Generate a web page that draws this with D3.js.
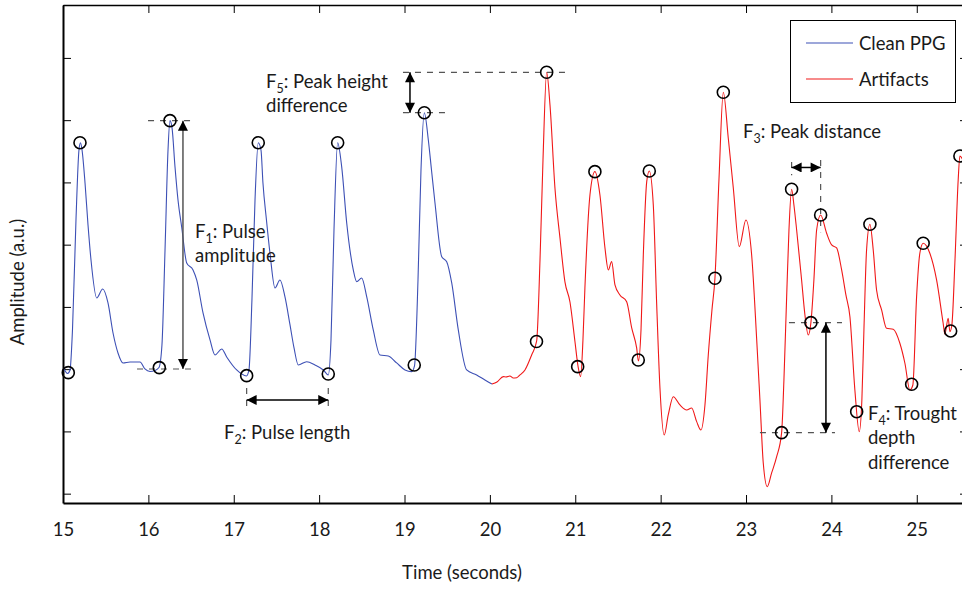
<!DOCTYPE html>
<html>
<head>
<meta charset="utf-8">
<script src="https://cdn.jsdelivr.net/npm/d3@7"></script>
<style>
    body { margin: 0; background: #fff; }
    text { font-family: Lato, "Open Sans", sans-serif; fill: #1a1a1a; }
</style>
</head>
<body>
<svg id="grafico"></svg>
<script>
const WIDTH = 962,
    HEIGHT = 589;

// el eje derecho queda fuera del cuadro, como en la figura original
const margin = { top: 5, left: 63, bottom: 86, right: -6 };
const FUENTE = "18.5px";

// señal limpia (azul)
const cleanTime = [15.006, 15.053, 15.082, 15.111, 15.152, 15.187, 15.205, 15.223, 15.258, 15.293, 15.328, 15.395, 15.465, 15.527, 15.586, 15.644, 15.703, 15.785, 15.902, 15.960, 16.019, 16.077, 16.124, 16.159, 16.195, 16.230, 16.253, 16.277, 16.312, 16.347, 16.390, 16.449, 16.523, 16.566, 16.640, 16.722, 16.780, 16.859, 16.917, 17.034, 17.149, 17.178, 17.213, 17.249, 17.287, 17.319, 17.342, 17.383, 17.424, 17.483, 17.541, 17.600, 17.659, 17.706, 17.756, 17.854, 17.951, 18.049, 18.107, 18.139, 18.174, 18.217, 18.264, 18.323, 18.400, 18.440, 18.498, 18.557, 18.634, 18.713, 18.810, 18.908, 19.006, 19.084, 19.117, 19.158, 19.193, 19.232, 19.279, 19.316, 19.357, 19.436, 19.494, 19.553, 19.630, 19.728, 19.845, 19.942, 20.024];
const cleanAmp = [2.019, 1.931, 1.987, 2.630, 4.397, 5.521, 5.638, 5.521, 4.991, 4.316, 3.754, 3.144, 3.288, 3.063, 2.581, 2.260, 2.100, 2.116, 2.116, 2.003, 1.963, 1.979, 2.027, 2.389, 3.915, 5.521, 5.992, 5.875, 5.248, 4.718, 4.284, 3.706, 3.594, 3.433, 2.903, 2.469, 2.228, 2.324, 2.196, 1.987, 1.891, 1.987, 3.112, 4.718, 5.638, 5.521, 4.991, 4.397, 3.867, 3.304, 3.433, 3.160, 2.710, 2.341, 2.067, 2.120, 2.067, 1.987, 1.907, 2.469, 4.236, 5.638, 5.253, 4.349, 3.594, 3.406, 3.465, 3.165, 2.630, 2.228, 2.212, 2.100, 1.987, 1.960, 2.051, 3.433, 5.200, 6.120, 5.682, 5.200, 4.670, 3.807, 3.727, 3.385, 2.630, 1.987, 1.907, 1.826, 1.762];

// tramo con artefactos (rojo)
const artifactTime = [20.024, 20.083, 20.157, 20.188, 20.235, 20.270, 20.314, 20.352, 20.411, 20.489, 20.548, 20.587, 20.622, 20.665, 20.704, 20.762, 20.821, 20.879, 20.938, 20.997, 21.032, 21.063, 21.090, 21.113, 21.172, 21.230, 21.289, 21.348, 21.387, 21.426, 21.465, 21.523, 21.602, 21.661, 21.719, 21.740, 21.770, 21.797, 21.837, 21.867, 21.914, 21.954, 21.992, 22.042, 22.089, 22.148, 22.226, 22.305, 22.363, 22.422, 22.472, 22.519, 22.558, 22.601, 22.636, 22.683, 22.734, 22.792, 22.851, 22.921, 22.999, 23.066, 23.124, 23.163, 23.202, 23.249, 23.300, 23.359, 23.417, 23.444, 23.476, 23.503, 23.534, 23.561, 23.593, 23.651, 23.690, 23.729, 23.760, 23.795, 23.827, 23.874, 23.944, 24.003, 24.061, 24.120, 24.170, 24.217, 24.275, 24.326, 24.357, 24.381, 24.412, 24.451, 24.490, 24.529, 24.588, 24.646, 24.724, 24.802, 24.861, 24.919, 24.954, 24.998, 25.036, 25.075, 25.153, 25.232, 25.309, 25.329, 25.368, 25.388, 25.411, 25.446, 25.485, 25.505, 25.540];
const artifactAmp = [1.762, 1.794, 1.880, 1.875, 1.891, 1.859, 1.863, 1.907, 1.987, 2.228, 2.453, 3.754, 5.361, 6.769, 6.244, 4.911, 4.108, 3.401, 3.079, 2.437, 2.051, 1.880, 2.469, 3.304, 4.798, 5.173, 4.798, 3.947, 3.594, 3.727, 3.353, 3.192, 3.084, 2.662, 2.341, 2.132, 2.630, 3.834, 5.012, 5.184, 4.638, 3.031, 1.698, 0.943, 1.264, 1.558, 1.425, 1.345, 1.377, 1.157, 1.023, 1.425, 2.228, 2.951, 3.460, 5.039, 6.448, 5.714, 4.911, 3.968, 4.397, 3.834, 2.501, 1.505, 0.493, 0.112, 0.333, 0.594, 0.980, 1.826, 3.165, 4.236, 4.890, 4.638, 4.236, 3.433, 2.871, 2.549, 2.747, 3.433, 4.236, 4.477, 4.183, 3.995, 3.947, 3.594, 3.192, 2.843, 1.666, 0.996, 1.505, 2.630, 3.915, 4.328, 3.915, 3.272, 2.951, 2.657, 2.641, 2.416, 2.095, 1.666, 1.746, 3.165, 3.862, 4.022, 3.862, 3.433, 2.737, 2.565, 2.818, 2.602, 2.710, 3.701, 5.039, 5.425, 5.360];

// picos y valles detectados (círculos)
const markTime = [15.062, 15.199, 16.128, 16.253, 17.151, 17.287, 18.107, 18.217, 19.114, 19.232, 20.546, 20.665, 21.028, 21.230, 21.738, 21.867, 22.636, 22.734, 23.417, 23.534, 23.760, 23.874, 24.296, 24.451, 24.940, 25.075, 25.397, 25.505];
const markAmp = [1.944, 5.638, 2.024, 5.992, 1.896, 5.638, 1.923, 5.638, 2.067, 6.120, 2.445, 6.769, 2.040, 5.173, 2.148, 5.184, 3.460, 6.448, 0.980, 4.890, 2.747, 4.477, 1.317, 4.328, 1.757, 4.022, 2.614, 5.425];

const xTicks = [15, 16, 17, 18, 19, 20, 21, 22, 23, 24, 25];
const yTicks = [0, 1, 2, 3, 4, 5, 6, 7];
const legendLabels = ["Clean PPG", "Artifacts"];
const seriesColors = ["#3d50b5", "#f01818"];

const svg = d3.select("#grafico")
    .attr("width", WIDTH)
    .attr("height", HEIGHT);

const escalaX = d3.scaleLinear()
    .domain([15, 25.6])
    .range([margin.left, WIDTH - margin.right]);

const escalaY = d3.scaleLinear()
    .domain([-0.15, 7.85])
    .range([HEIGHT - margin.bottom, margin.top]);

// flechas
const defs = svg.append("defs");
defs.append("marker")
    .attr("id", "punta")
    .attr("viewBox", "0 0 10 10")
    .attr("refX", 10)
    .attr("refY", 5)
    .attr("markerUnits", "userSpaceOnUse")
    .attr("markerWidth", 11)
    .attr("markerHeight", 10)
    .attr("orient", "auto-start-reverse")
    .append("path")
    .attr("d", "M0,0 L10,5 L0,10 Z")
    .attr("fill", "#000");

// ejes con marcas hacia dentro (estilo caja)
const ejeAbajo = svg.append("g")
    .attr("transform", `translate(0 ${HEIGHT - margin.bottom})`)
    .call(d3.axisBottom(escalaX).tickValues(xTicks).tickSizeInner(-8).tickSizeOuter(0).tickPadding(19.5));
ejeAbajo.selectAll("text").style("font-size", FUENTE).attr("fill", "#1a1a1a");

const ejeArriba = svg.append("g")
    .attr("transform", `translate(0 ${margin.top})`)
    .call(d3.axisTop(escalaX).tickValues(xTicks).tickSizeInner(-8).tickSizeOuter(0).tickFormat(""));

const ejeIzq = svg.append("g")
    .attr("transform", `translate(${margin.left} 0)`)
    .call(d3.axisLeft(escalaY).tickValues(yTicks).tickSizeInner(-8).tickSizeOuter(0).tickFormat(""));

const ejeDer = svg.append("g")
    .attr("transform", `translate(${WIDTH - margin.right} 0)`)
    .call(d3.axisRight(escalaY).tickValues(yTicks).tickSizeInner(-8).tickSizeOuter(0).tickFormat(""));

[ejeAbajo, ejeArriba, ejeIzq, ejeDer].forEach(e => {
    e.select(".domain").attr("stroke", "#000").attr("stroke-width", 2);
    e.selectAll(".tick line").attr("stroke", "#000").attr("stroke-width", 1);
});
ejeArriba.select(".domain").attr("stroke-width", 1.5);

// títulos de ejes
svg.append("text")
    .attr("x", 462)
    .attr("y", 574)
    .attr("text-anchor", "middle")
    .attr("dominant-baseline", "middle")
    .style("font-size", FUENTE)
    .text("Time (seconds)");

svg.append("text")
    .attr("transform", "translate(19 282) rotate(-90)")
    .attr("text-anchor", "middle")
    .attr("dominant-baseline", "middle")
    .style("font-size", FUENTE)
    .text("Amplitude (a.u.)");

// señales
const linea = d3.line()
    .x(d => escalaX(d[0]))
    .y(d => escalaY(d[1]))
    .curve(d3.curveMonotoneX);

svg.append("path")
    .datum(d3.zip(cleanTime, cleanAmp))
    .attr("fill", "none")
    .attr("stroke", seriesColors[0])
    .attr("stroke-width", 1.1)
    .attr("d", linea);

svg.append("path")
    .datum(d3.zip(artifactTime, artifactAmp))
    .attr("fill", "none")
    .attr("stroke", seriesColors[1])
    .attr("stroke-width", 1.1)
    .attr("d", linea);

// líneas punteadas guía
const guias = [
    [15.996, 5.992, 16.511, 5.992],
    [15.867, 2.003, 16.511, 2.003],
    [17.151, 1.698, 17.151, 1.41],
    [18.107, 1.698, 18.107, 1.41],
    [18.982, 6.769, 20.938, 6.769],
    [18.982, 6.120, 19.497, 6.120],
    [23.534, 5.328, 23.534, 5.117],
    [23.874, 5.361, 23.874, 4.201],
    [23.503, 2.747, 24.124, 2.747],
    [23.163, 0.980, 24.042, 0.980]
];
svg.append("g")
    .selectAll("line")
    .data(guias)
    .join("line")
    .attr("x1", d => escalaX(d[0]))
    .attr("y1", d => escalaY(d[1]))
    .attr("x2", d => escalaX(d[2]))
    .attr("y2", d => escalaY(d[3]))
    .attr("stroke", "#555")
    .attr("stroke-width", 1.2)
    .attr("stroke-dasharray", "6,6");

// flechas dobles de las características
const flechas = [
    [16.405, 5.992, 16.405, 2.003, "#555"],
    [17.151, 1.505, 18.107, 1.505, "#000"],
    [19.064, 6.769, 19.064, 6.120, "#000"],
    [23.534, 5.240, 23.874, 5.240, "#000"],
    [23.936, 2.747, 23.936, 0.980, "#000"]
];
svg.append("g")
    .selectAll("line")
    .data(flechas)
    .join("line")
    .attr("x1", d => escalaX(d[0]))
    .attr("y1", d => escalaY(d[1]))
    .attr("x2", d => escalaX(d[2]))
    .attr("y2", d => escalaY(d[3]))
    .attr("stroke", d => d[4])
    .attr("stroke-width", 1.5)
    .attr("marker-start", "url(#punta)")
    .attr("marker-end", "url(#punta)");

// picos y valles
svg.append("g")
    .selectAll("circle")
    .data(d3.zip(markTime, markAmp))
    .join("circle")
    .attr("cx", d => escalaX(d[0]))
    .attr("cy", d => escalaY(d[1]))
    .attr("r", 6)
    .attr("fill", "none")
    .attr("stroke", "#000")
    .attr("stroke-width", 1.6);

// textos de anotación: [t, amplitud, subíndice, resto, lineas extra]
const notas = [
    [16.546, 4.108, "1", ": Pulse", ["amplitude"]],
    [16.886, 0.879, "2", ": Pulse length", []],
    [17.378, 6.517, "5", ": Peak height", ["difference"]],
    [22.964, 5.714, "3", ": Peak distance", []],
    [24.428, 1.184, "4", ": Trought", ["depth", "difference"]]
];
const interlinea = 24.5;

notas.forEach(n => {
    const x0 = escalaX(n[0]), y0 = escalaY(n[1]);
    const t = svg.append("text")
        .attr("x", x0)
        .attr("y", y0)
        .style("font-size", FUENTE);
    t.append("tspan").text("F");
    t.append("tspan").attr("dy", 5).style("font-size", "12.5px").text(n[2]);
    t.append("tspan").attr("dy", -5).text(n[3]);
    n[4].forEach((linea2, i) => {
        svg.append("text")
            .attr("x", x0)
            .attr("y", y0 + interlinea * (i + 1))
            .style("font-size", FUENTE)
            .text(linea2);
    });
});

// leyenda
const leyenda = svg.append("g");
leyenda.append("rect")
    .attr("x", 790.5)
    .attr("y", 20.5)
    .attr("width", 165)
    .attr("height", 82)
    .attr("fill", "#fff")
    .attr("stroke", "#000")
    .attr("stroke-width", 1);

leyenda.selectAll("line")
    .data(legendLabels)
    .join("line")
    .attr("x1", 806)
    .attr("x2", 853)
    .attr("y1", (d, i) => 43 + i * 36)
    .attr("y2", (d, i) => 43 + i * 36)
    .attr("stroke", (d, i) => seriesColors[i])
    .attr("stroke-width", 1.1);

leyenda.selectAll("text")
    .data(legendLabels)
    .join("text")
    .attr("x", 859)
    .attr("y", (d, i) => 45 + i * 36)
    .attr("dominant-baseline", "middle")
    .style("font-size", FUENTE)
    .text(d => d);
</script>
</body>
</html>
